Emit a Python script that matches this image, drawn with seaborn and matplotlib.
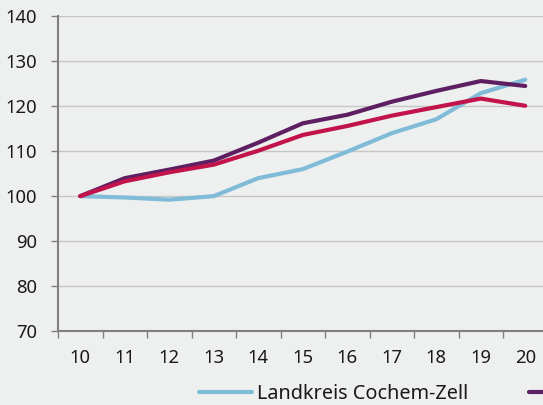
import pandas as pd
import numpy as np
import matplotlib
matplotlib.use("Agg")
import matplotlib.pyplot as plt
import seaborn as sns

# ---------- Data (index, 2010 = 100) ----------
years = ["10", "11", "12", "13", "14", "15", "16", "17", "18", "19", "20"]
cochem_zell = [100, 99.7, 99.2, 100, 104, 106, 109.9, 114, 117.1, 122.9, 125.9]
rheinland_pfalz = [100, 104, 105.9, 107.9, 111.9, 116.2, 118.1, 121, 123.4, 125.6, 124.5]
deutschland = [100, 103.3, 105.3, 107, 110.1, 113.6, 115.6, 117.9, 119.8, 121.7, 120.1]

series_names = ["Landkreis Cochem-Zell", "Rheinland-Pfalz", "Deutschland"]
colors = ["#80bcd8", "#5e1f62", "#c2134b"]

df = pd.DataFrame({
    "Jahr": years * 3,
    "Wert": cochem_zell + rheinland_pfalz + deutschland,
    "Region": [series_names[0]] * 11 + [series_names[1]] * 11 + [series_names[2]] * 11,
})

# ---------- Style ----------
sns.set_style("white")
plt.rcParams["font.family"] = ["Noto Sans", "DejaVu Sans"]
bg = "#eef0ef"
text_col = "#1a1a1a"

fig = plt.figure(figsize=(5.43, 4.05), dpi=100, facecolor=bg)
ax = fig.add_axes([58 / 543, 74 / 405, 489.5 / 543, 314.7 / 405])
ax.set_facecolor(bg)

sns.lineplot(
    data=df, x="Jahr", y="Wert", hue="Region",
    palette=colors, linewidth=3, ax=ax, sort=False,
)

ax.set_ylim(70, 140)
ax.set_xlim(-0.5, 10.5)
ax.set_yticks(range(70, 141, 10))
ax.set_xticks(range(11))
ax.set_xticklabels(years)
ax.set_xticks(np.arange(-0.5, 11, 1), minor=True)

ax.yaxis.grid(True, color="#c6c6c6", linewidth=1)
ax.set_axisbelow(True)
for side in ["top", "right"]:
    ax.spines[side].set_visible(False)
for side in ["left", "bottom"]:
    ax.spines[side].set_color("#7f7f7f")
    ax.spines[side].set_linewidth(1.5)

ax.tick_params(axis="y", length=5, width=1, color="#7f7f7f", pad=10,
               labelsize=13.3, labelcolor=text_col, left=True)
ax.tick_params(axis="x", which="major", length=0, pad=13,
               labelsize=13.3, labelcolor=text_col)
ax.tick_params(axis="x", which="minor", length=5, width=1, color="#7f7f7f", bottom=True)

ax.set_xlabel("")
ax.set_ylabel("")

# ---------- Legend ----------
handles, labels = ax.get_legend_handles_labels()
ax.legend(
    handles, labels, ncol=3, loc="center left",
    bbox_to_anchor=(199 / 543, 11 / 405), bbox_transform=fig.transFigure,
    frameon=False, fontsize=14.3, handlelength=2.65, handletextpad=0.25,
    columnspacing=3.1, borderaxespad=0, borderpad=0,
    labelcolor=text_col,
)

fig.savefig("out.png", dpi=100, facecolor=bg)
